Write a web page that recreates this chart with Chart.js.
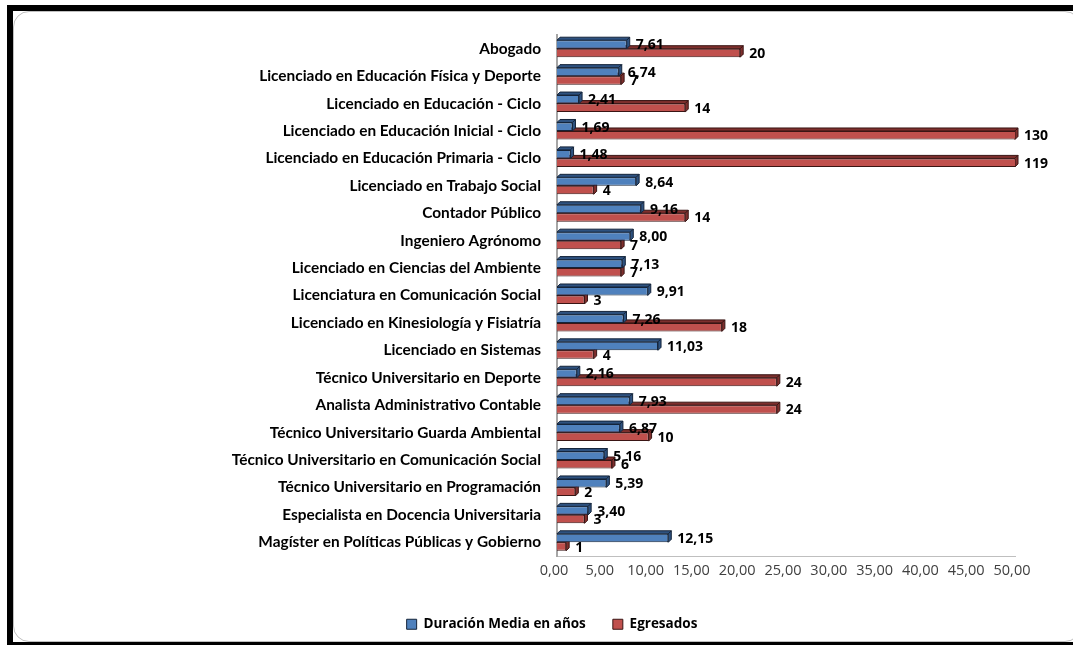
<!DOCTYPE html>
<html>
<head>
<meta charset="utf-8">
<script src="https://cdn.jsdelivr.net/npm/chart.js@4.4.1/dist/chart.umd.min.js"></script>
<style>
  html, body { margin: 0; padding: 0; background: #fff; }
  #wrap { position: relative; width: 1073px; height: 645px; overflow: hidden; }
  #frame { position: absolute; left: 7px; top: 5px; width: 1080px; height: 631px;
           border-top: 6px solid #000; border-left: 6px solid #000; border-bottom: 3px solid #000; }
  #inner { position: absolute; left: 13px; top: 11px; width: 1068px; height: 631px;
           border: 1px solid #BFBFBF; border-radius: 16px; box-sizing: border-box; }
  canvas { position: absolute; left: 0; top: 0; }
</style>
</head>
<body>
<div id="wrap">
  <div id="frame"></div>
  <div id="inner"></div>
  <canvas id="c" width="1073" height="645"></canvas>
</div>
<script>
const categories = [
  "Abogado",
  "Licenciado en Educación Física y Deporte",
  "Licenciado en Educación - Ciclo",
  "Licenciado en Educación Inicial - Ciclo",
  "Licenciado en Educación Primaria - Ciclo",
  "Licenciado en Trabajo Social",
  "Contador Público",
  "Ingeniero Agrónomo",
  "Licenciado en Ciencias del Ambiente",
  "Licenciatura en Comunicación Social",
  "Licenciado en Kinesiología y Fisiatría",
  "Licenciado en Sistemas",
  "Técnico Universitario en Deporte",
  "Analista Administrativo Contable",
  "Técnico Universitario Guarda Ambiental",
  "Técnico Universitario en Comunicación Social",
  "Técnico Universitario en Programación",
  "Especialista en Docencia Universitaria",
  "Magíster en Políticas Públicas y Gobierno"
];
const duracionMedia = [7.61, 6.74, 2.41, 1.69, 1.48, 8.64, 9.16, 8.00, 7.13, 9.91, 7.26, 11.03, 2.16, 7.93, 6.87, 5.16, 5.39, 3.40, 12.15];
const egresados = [20, 7, 14, 130, 119, 4, 14, 7, 7, 3, 18, 4, 24, 24, 10, 6, 2, 3, 1];
const seriesNames = ["Duración Media en años", "Egresados"];
const axisMin = 0, axisMax = 50, axisStep = 5;

const fmtDec = v => v.toFixed(2).replace('.', ',');
const DEPTH = 3;
const sideColors = ['#2E5280', '#7E2F2D'];
const edgeColors = ['#14243A', '#3A1514'];

function drawFaces(chart, dsIndex) {
  const ctx = chart.ctx, area = chart.chartArea;
  const meta = chart.getDatasetMeta(dsIndex);
  ctx.save();
  ctx.lineWidth = 1;
  ctx.strokeStyle = edgeColors[dsIndex];
  ctx.fillStyle = sideColors[dsIndex];
  meta.data.forEach(bar => {
    const p = bar.getProps(['x', 'y', 'base', 'height'], true);
    const xe = Math.min(p.x, area.right);
    const x0 = p.base;
    const top = p.y - p.height / 2, bot = p.y + p.height / 2;
    ctx.beginPath();
    ctx.moveTo(x0, top); ctx.lineTo(x0 + DEPTH, top - DEPTH);
    ctx.lineTo(xe + DEPTH, top - DEPTH); ctx.lineTo(xe, top); ctx.closePath();
    ctx.fill(); ctx.stroke();
    ctx.beginPath();
    ctx.moveTo(xe, top); ctx.lineTo(xe + DEPTH, top - DEPTH);
    ctx.lineTo(xe + DEPTH, bot - DEPTH); ctx.lineTo(xe, bot); ctx.closePath();
    ctx.fill(); ctx.stroke();
  });
  ctx.restore();
}

const bar3d = {
  id: 'bar3d',
  beforeDatasetsDraw(chart) { drawFaces(chart, 1); },
  afterDatasetsDraw(chart) {
    drawFaces(chart, 0);
    const ctx = chart.ctx, area = chart.chartArea;
    ctx.save();
    ctx.font = 'bold 14px "Open Sans"';
    ctx.fillStyle = '#000';
    ctx.textAlign = 'left';
    ctx.textBaseline = 'middle';
    [0, 1].forEach(di => {
      const meta = chart.getDatasetMeta(di);
      const vals = chart.data.datasets[di].data;
      meta.data.forEach((bar, i) => {
        const p = bar.getProps(['x', 'y'], true);
        const xe = Math.min(p.x, area.right);
        const txt = di === 0 ? fmtDec(vals[i]) : String(vals[i]);
        ctx.fillText(txt, xe + 9, p.y + 1);
      });
    });
    ctx.restore();
  }
};

new Chart(document.getElementById('c'), {
  type: 'bar',
  data: {
    labels: categories,
    datasets: [
      { label: seriesNames[0], data: duracionMedia, backgroundColor: '#4F81BD', borderColor: edgeColors[0], borderWidth: 1 },
      { label: seriesNames[1], data: egresados, backgroundColor: '#C0504D', borderColor: edgeColors[1], borderWidth: 1 }
    ]
  },
  options: {
    indexAxis: 'y',
    responsive: false,
    devicePixelRatio: 1,
    animation: false,
    categoryPercentage: 0.62,
    barPercentage: 1.0,
    layout: { padding: { left: 89, right: 58, top: 35, bottom: 4 } },
    scales: {
      x: {
        min: axisMin, max: axisMax,
        grid: { display: false, drawTicks: false },
        border: { display: true, color: '#BFBFBF', width: 1 },
        ticks: {
          stepSize: axisStep,
          callback: v => fmtDec(v),
          font: { family: '"Open Sans"', size: 14.5 },
          color: '#404040',
          padding: 6,
          labelOffset: -3,
          maxRotation: 0
        },
        afterFit: s => { s.height = 34.5; }
      },
      y: {
        grid: { display: false, drawTicks: false },
        border: { display: true, color: '#A6A6A6', width: 2 },
        ticks: {
          font: { family: 'Lato', size: 15.4, weight: 'bold' },
          color: '#000',
          padding: 16,
          autoSkip: false
        },
        afterFit: s => { s.width = 557 - 89; }
      }
    },
    plugins: {
      legend: {
        position: 'bottom',
        labels: {
          boxWidth: 10, boxHeight: 10, padding: 27,
          font: { family: '"Open Sans"', size: 13.5, weight: 'bold' },
          color: '#000'
        }
      },
      tooltip: { enabled: false }
    }
  },
  plugins: [bar3d]
});
</script>
</body>
</html>
